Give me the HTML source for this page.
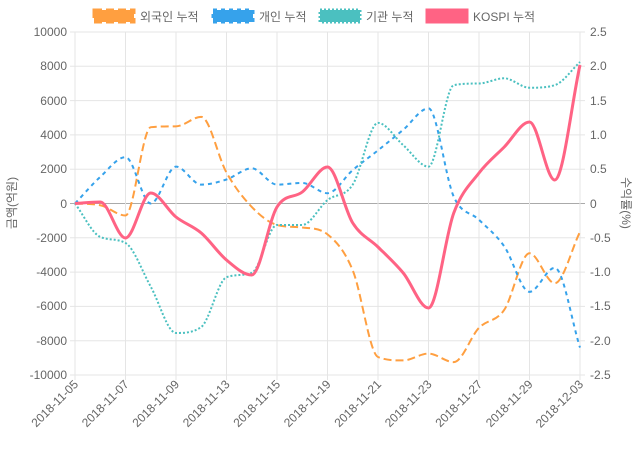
<!DOCTYPE html>
<html><head><meta charset="utf-8"><style>
body{margin:0;background:#fff;width:640px;height:450px;overflow:hidden}
svg{font-family:"Liberation Sans","Noto Sans CJK KR",sans-serif}
</style></head><body>
<svg id="s" width="640" height="450" xmlns="http://www.w3.org/2000/svg">
<g id="grid" stroke="#e5e5e5" stroke-width="1"></g>
<g font-size="12" fill="#666" text-anchor="end">
<text x="67" y="36">10000</text><text x="67" y="70">8000</text><text x="67" y="105">6000</text><text x="67" y="139">4000</text><text x="67" y="173">2000</text><text x="67" y="208">0</text><text x="67" y="242">-2000</text><text x="67" y="276">-4000</text><text x="67" y="310">-6000</text><text x="67" y="345">-8000</text><text x="67" y="379">-10000</text>
</g>
<g font-size="12" fill="#666" text-anchor="start">
<text x="590" y="36">2.5</text><text x="590" y="70">2.0</text><text x="590" y="105">1.5</text><text x="590" y="139">1.0</text><text x="590" y="173">0.5</text><text x="590" y="208">0</text><text x="590" y="242">-0.5</text><text x="590" y="276">-1.0</text><text x="590" y="310">-1.5</text><text x="590" y="345">-2.0</text><text x="590" y="379">-2.5</text>
</g>
<text font-size="12" fill="#666" text-anchor="middle" transform="translate(16,203) rotate(-90)">금액(억원)</text>
<text font-size="12" fill="#666" text-anchor="middle" transform="translate(622,203) rotate(90)">수익률(%)</text>
<g id="xl" font-size="12" fill="#666" text-anchor="end"></g>
<g id="lines" fill="none"></g>
<g font-size="12" fill="#666">
<rect x="94" y="10" width="40" height="12" fill="#ff9f40" stroke="#ff9f40" stroke-width="3" stroke-dasharray="8,4"/><text x="140" y="21">외국인 누적</text>
<rect x="213" y="10" width="40" height="12" fill="#36a2eb" stroke="#36a2eb" stroke-width="3" stroke-dasharray="4,4"/><text x="259" y="21">개인 누적</text>
<rect x="320" y="10" width="40" height="12" fill="#4bc0c0" stroke="#4bc0c0" stroke-width="3" stroke-dasharray="2,2"/><text x="366" y="21">기관 누적</text>
<rect x="427" y="10" width="40" height="12" fill="#ff6384" stroke="#ff6384" stroke-width="3"/><text x="473" y="21">KOSPI 누적</text>
</g>
</svg>
<script>
var NS="http://www.w3.org/2000/svg",L=75,R=580,T=32,B=375;
function el(p,t,a,txt){var e=document.createElementNS(NS,t);for(var k in a)e.setAttribute(k,a[k]);if(txt)e.textContent=txt;p.appendChild(e);return e;}
var g=document.getElementById('grid');
for(var i=0;i<=10;i++){var y=T+(B-T)*i/10;el(g,'line',{x1:L-5,x2:R+5,y1:y,y2:y,stroke:i==5?'#aaa':'#e5e5e5'});}
var labs=['2018-11-05','2018-11-07','2018-11-09','2018-11-13','2018-11-15','2018-11-19','2018-11-21','2018-11-23','2018-11-27','2018-11-29','2018-12-03'];
var xl=document.getElementById('xl');
for(var i=0;i<=10;i++){var x=L+(R-L)*i/10;el(g,'line',{x1:x,x2:x,y1:T,y2:B+5});
el(xl,'text',{transform:'translate('+(x+4)+','+(B+10)+') rotate(-45)'},labs[i]);}
function Y(v){return 203.5-v*17.15/1000;}
var fo=[0,-100,-700,4450,4500,5050,1800,-200,-1250,-1400,-1800,-3900,-8950,-9150,-8750,-9250,-7250,-6200,-2900,-4650,-1650];
var iv=[0,1550,2700,0,2150,1100,1400,2050,1100,1200,600,1950,3100,4300,5550,400,-950,-2500,-5150,-3750,-8400];
var ins=[0,-1950,-2300,-4850,-7550,-7200,-4300,-4050,-1250,-1250,200,1100,4700,3400,2150,6900,7000,7300,6750,6900,8250];
var ks=[203.5,202,238,193,217,233,260,275,207,192,167,223,247,273,308,213,173,147,122,180,65];
function path(ys){var n=ys.length,h=(R-L)/20,dl=[],m=[];
for(var i=0;i<n-1;i++)dl.push((ys[i+1]-ys[i])/h);
for(var i=0;i<n;i++){if(i==0)m.push(dl[0]);else if(i==n-1)m.push(dl[n-2]);else m.push(dl[i-1]*dl[i]<=0?0:(dl[i-1]+dl[i])/2);}
for(var i=0;i<n-1;i++){if(dl[i]==0){m[i]=m[i+1]=0;continue;}var a=m[i]/dl[i],b=m[i+1]/dl[i],s=a*a+b*b;if(s>9){var t=3/Math.sqrt(s);m[i]=t*a*dl[i];m[i+1]=t*b*dl[i];}}
var d='M'+L+','+ys[0];
for(var i=0;i<n-1;i++){var x0=L+h*i,x1=x0+h;d+=' C'+(x0+h/3)+','+(ys[i]+m[i]*h/3)+' '+(x1-h/3)+','+(ys[i+1]-m[i+1]*h/3)+' '+x1+','+ys[i+1];}
return d;}
var ln=document.getElementById('lines');
el(ln,'path',{d:path(fo.map(Y)),stroke:'#ff9f40','stroke-width':2,'stroke-dasharray':'8,4'});
el(ln,'path',{d:path(iv.map(Y)),stroke:'#36a2eb','stroke-width':2,'stroke-dasharray':'4,4'});
el(ln,'path',{d:path(ins.map(Y)),stroke:'#4bc0c0','stroke-width':2,'stroke-dasharray':'2,2'});
el(ln,'path',{d:path(ks),stroke:'#ff6384','stroke-width':3});
</script>
</body></html>
